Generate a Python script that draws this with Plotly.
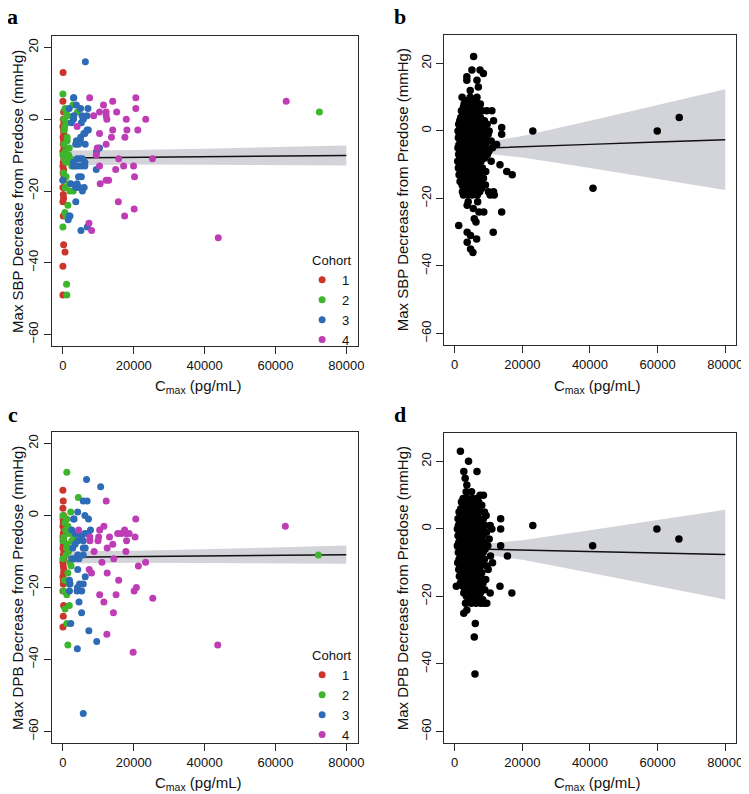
import plotly.graph_objects as go

# ---------------- data ----------------
# panel a: max SBP decrease vs Cmax, by cohort
a1_x = [50, 0, 200, 100, 300, 0, 150, 250, 50, 200,
        100, 300, 0, 150, 250, 100, 0, 200, 50, 300,
        150, 0, 100, 200, 0, 100, 200, 600, 0, 0,
        350, 400, 450]
a1_y = [13, 5, 2, 0, -1, -2, -3, -4, -5, -6,
        -7, -8, -9, -10, -11, -12, -13, -14, -15, -16,
        -17, -19, -21, -22, -23, -27, -35, -37, -41, -49,
        -3, -9, -12]
a2_x = [0, 2800, 4100, 600, 900, 1400, 300, 1000, 500, 1200,
        300, 1800, 600, 1000, 0, 1500, 2000, 2500, 400, 800,
        200, 900, 0, 1800, 700, 1950, 2900, 1400, 560, 900,
        0, 1020, 1100, 72400, 1600, 300, 1200, 2200]
a2_y = [7, 4, 2, 3, 2, 1, 0, -1, -2, -6,
        -7, -8, -9, -10, -10, -11, -12, -13, -11, -12,
        -15, -16, -17, -18, -19, -20, -20, -24, -26, -27,
        -30, -46, -49, 2, -10, -3, -5, -11]
a3_x = [6330, 3070, 3800, 7070, 1770, 5000, 3070, 5400, 6800, 2400,
        5200, 6800, 5900, 5000, 3800, 4400, 6300, 3600, 10330, 4000,
        4800, 5500, 3000, 3600, 4400, 5300, 6200, 9400, 0, 4400,
        4000, 2230, 4700, 3600, 5500, 6000, 3630, 1770, 1500, 5100,
        6880, 2980, 3000, 5770, 7170, 6200, 9500, 3000, 6200, 5200,
        4900, 2000]
a3_y = [16, 6, 4, 3, 3, 3, 1, 1, 1, -1,
        -1, -3, -4, -5, -6, -7, -7, -7, -8, -11,
        -11, -11, -13, -13, -13, -13, -13, -14, -17, -16,
        -18, -18, -19, -19, -20, -19, -23, -27, -28, -31,
        -30, 6, 0, 0, -3, -4, -9, -12, -12, -16,
        -6, -27]
a4_x = [7540, 20580, 14050, 20580, 11450, 15170, 10330, 12200, 8660, 12200,
        12400, 17880, 23370, 4000, 14050, 18060, 21140, 10330, 13700, 17500,
        12200, 9700, 9420, 15730, 25300, 10330, 17130, 19930, 14890, 20210,
        12200, 12900, 10520, 15640, 17410, 20110, 7350, 8100, 43850, 63030]
a4_y = [6, 6, 5, 3, 4, 2, 2, 2, 1, 1,
        0, 0, 0, -2, -3, -3, -3, -4, -5, -5,
        -7, -8, -10, -11, -11, -13, -13, -13, -14, -16,
        -17, -17, -18, -23, -27, -25, -29, -31, -33, 5]

# panel c: max DBP decrease vs Cmax, by cohort
c1_x = [0, 100, 0, 200, 100, 0, 300, 100, 0, 200,
        100, 0, 300, 100, 200, 0, 100, 200, 0, 100,
        0, 200, 100, 0, 250, 150, 50]
c1_y = [7, 4, 2, 0, -2, -3, -4, -5, -6, -7,
        -8, -9, -10, -11, -12, -13, -14, -16, -17, -19,
        -21, -25, -28, -31, -15, -18, -1]
c2_x = [1100, 4350, 2200, 0, 1100, 600, 1400, 800, 1800, 300,
        3150, 2500, 0, 1200, 1600, 900, 0, 2000, 1400, 1800,
        200, 1100, 600, 1800, 1100, 1400, 72100, 2300, 500, 1000]
c2_y = [12, 5, 1, 0, -1, -2, -3, -4, -5, -6,
        -6, -7, -7, -8, -10, -11, -12, -13, -16, -19,
        -21, -22, -26, -25, -30, -36, -11, -14, -18, -9]
c3_x = [6670, 10650, 5740, 6850, 4170, 6200, 7220, 3150, 2500, 7780,
        3430, 4300, 6200, 7100, 5200, 5740, 3430, 2780, 5740, 4170,
        5740, 2500, 4170, 6300, 1850, 4700, 5740, 4000, 5300, 1850,
        4540, 5280, 2220, 7320, 9540, 4070, 5740, 3000, 6300, 3200,
        4500, 4100, 2000, 4250]
c3_y = [10, 8, 4, 4, 1, 0, -1, -1, -4, -4,
        -5, -5, -5, -5, -6, -7, -8, -9, -9, -11,
        -11, -12, -15, -17, -18, -19, -19, -21, -21, -21,
        -24, -27, -30, -32, -35, -37, -55, -1, -9, -12,
        -12, -20, -19, -7]
c4_x = [12220, 20560, 4440, 10370, 11570, 10090, 13150, 15460, 16400, 17780,
        17410, 18700, 20370, 17960, 9900, 7600, 7600, 14080, 12500, 17780,
        8800, 14350, 11020, 23340, 21300, 7410, 8060, 12500, 15740, 10370,
        15000, 20740, 20100, 25370, 11570, 14260, 12410, 19820, 43700, 62780]
c4_y = [4, -1, -4, -4, -3, -6, -6, -5, -5, -5,
        -4, -5, -6, -7, -7, -6, -7, -8, -9, -10,
        -10, -12, -13, -13, -14, -15, -16, -16, -18, -22,
        -22, -20, -21, -23, -24, -27, -33, -38, -36, -3]

# panel b: all subjects, SBP (points grouped by y level)
b_levels = [22, 18, 17, 16, 15, 13, 12, 10, 9, 8, 7, 6, 5, 4, 3, 2, 1, 0,
            -1, -2, -3, -4, -5, -6, -7, -8, -9, -10, -11, -12, -13, -14, -15,
            -16, -17, -18, -19, -21, -22, -23, -24, -26, -27, -28, -30, -31,
            -32, -33, -35, -36]
b_rows = [
    [5600], [5100, 7500], [8500], [3600], [3600, 6600], [7000], [4600],
    [2200, 4600, 6600],
    [3200, 4500, 5200, 6100],
    [2800, 3900, 5000, 5800, 7100, 7600],
    [2600, 3500, 4300, 5500, 6400],
    [2000, 3000, 4100, 4800, 6000, 7300, 8200, 9500, 11000],
    [2400, 3300, 4600, 5300, 6800],
    [1800, 2900, 3700, 4400, 5600, 6200, 7600, 66400],
    [1500, 2500, 3400, 4900, 5800, 7000, 8800, 11500],
    [1200, 2200, 3100, 4100, 5200, 6500, 7900, 9600],
    [1600, 2700, 3800, 4700, 5900, 7200, 8400, 13900],
    [1000, 2000, 3000, 4300, 5500, 6400, 7600, 9000, 10200, 23100, 59900],
    [1400, 2500, 3500, 4600, 5800, 7000, 8200, 9900, 13900],
    [1100, 2100, 3200, 4200, 5200, 6300, 7500, 8800],
    [1700, 2800, 3900, 5000, 6100, 7300, 9400, 10800],
    [1300, 2300, 3300, 4500, 5600, 6700, 8000, 9200, 12400],
    [1000, 2000, 3000, 4100, 5300, 6400, 7700, 8600, 11200],
    [1500, 2600, 3700, 4800, 5900, 7100, 8300, 10100],
    [1200, 2200, 3300, 4400, 5500, 6700, 7900, 9700],
    [1600, 2700, 3800, 5000, 6200, 7400, 8900],
    [900, 1900, 3000, 4200, 5400, 6600, 7800, 10800],
    [1400, 2400, 3500, 4700, 5900, 7100, 13400],
    [1100, 2200, 3300, 4500, 5700, 6900, 8200],
    [1700, 2800, 3900, 5100, 6300, 7600, 9200, 15400],
    [1300, 2500, 3600, 4800, 6000, 7300, 17000],
    [2000, 3100, 4200, 5400, 6600, 8500],
    [1600, 2700, 3900, 5100, 6400, 7700],
    [2200, 3400, 4600, 5800, 7100, 9100],
    [2600, 3800, 5000, 6200, 8000, 40900],
    [2300, 3300, 4400, 5600, 7400, 10000, 11500],
    [2600, 3900, 5200, 6700, 10500, 11700],
    [4000, 6800], [3700], [5500], [7200, 8600, 13900], [5800], [6300],
    [1200], [3700, 11400], [4700], [6500], [3700], [4700], [5400],
]

# panel d: all subjects, DBP (points grouped by y level)
d_levels = [23, 20, 17, 15, 13, 11, 10, 9, 8, 7, 6, 5, 4, 3, 2, 1, 0,
            -1, -2, -3, -4, -5, -6, -7, -8, -9, -10, -11, -12, -13, -14,
            -15, -16, -17, -18, -19, -20, -21, -22, -24, -25, -28, -32, -43]
d_rows = [
    [1700], [4100], [2700, 6600], [3100], [3600], [3400, 5000], [7500, 8500],
    [2500, 3800, 5200, 6500],
    [2000, 3200, 4400, 5800, 7100],
    [2800, 4000, 5000, 6300, 8000],
    [1800, 3000, 4300, 5500, 6800],
    [1300, 2400, 3600, 4800, 6000, 7400, 8800],
    [1700, 2900, 4100, 5300, 6600, 9300],
    [1000, 2200, 3400, 4600, 5800, 7100, 8500, 13600],
    [1500, 2700, 3900, 5100, 6300, 7700],
    [1100, 2300, 3500, 4700, 5900, 7300, 9000, 10500, 23100],
    [800, 1900, 3100, 4300, 5500, 6800, 8100, 11000, 13600, 59800],
    [1400, 2600, 3800, 5000, 6200, 7500, 9400],
    [1000, 2100, 3300, 4500, 5700, 6900, 8300],
    [1600, 2800, 4000, 5200, 6400, 7800, 10200, 66300],
    [1200, 2400, 3600, 4800, 6000, 7200, 8700],
    [800, 1900, 3100, 4300, 5500, 6700, 8000, 9800, 13600, 40800],
    [1500, 2700, 3900, 5100, 6300, 7500, 9000],
    [1100, 2300, 3500, 4700, 5900, 7100, 8400],
    [1700, 2900, 4100, 5300, 6500, 7800, 10600, 15600],
    [1300, 2500, 3700, 4900, 6100, 7400, 8800],
    [900, 2000, 3200, 4400, 5600, 6900, 8200, 11200],
    [1600, 2800, 4000, 5200, 6400, 7700, 9600],
    [1200, 2400, 3600, 4800, 6000, 7300, 9900],
    [1800, 3000, 4200, 5400, 6700, 8000],
    [1400, 2600, 3800, 5000, 6300, 7600],
    [2100, 3300, 4500, 5700, 7000, 9200],
    [1700, 2900, 4100, 5400, 6600, 8400],
    [500, 2400, 3600, 4800, 6100, 7400, 13400],
    [3100, 4300, 5500, 6800, 8900],
    [2700, 3900, 5100, 6400, 7600, 10500, 16900],
    [3500, 4700, 6000, 7200],
    [4200, 5500, 8300],
    [3200, 4900, 6300, 7700, 8700, 9500],
    [3600], [2700], [6100], [5800], [6000],
]

# regression fits and confidence bands
band_x = [0, 10000, 20000, 40000, 60000, 80000]
a_fit = [-10.8, -10.7, -10.6, -10.45, -10.3, -10.1]
a_hi = [-8.7, -8.7, -8.6, -8.2, -7.8, -7.3]
a_lo = [-12.9, -12.7, -12.6, -12.7, -12.8, -12.9]
c_fit = [-11.6, -11.5, -11.4, -11.3, -11.1, -10.9]
c_hi = [-9.9, -9.9, -9.8, -9.4, -8.9, -8.3]
c_lo = [-13.3, -13.2, -13.1, -13.2, -13.3, -13.4]

band2_x = [0, 5000, 10000, 20000, 40000, 60000, 80000]
b_fit = [-5.4, -5.2, -5.0, -4.7, -4.0, -3.3, -2.6]
b_hi = [-3.5, -3.6, -3.2, -1.5, 3.0, 7.6, 12.3]
b_lo = [-7.3, -6.8, -6.8, -7.9, -11.0, -14.2, -17.5]
d_fit = [-5.8, -5.9, -6.0, -6.25, -6.7, -7.15, -7.6]
d_hi = [-3.9, -4.3, -4.3, -3.35, -0.4, 2.65, 5.7]
d_lo = [-7.7, -7.5, -7.7, -9.15, -13.0, -16.95, -20.9]

cohorts = ["1", "2", "3", "4"]
x_ticks = [0, 20000, 40000, 60000, 80000]
y_ticks = [-60, -40, -20, 0, 20]

# ---------------- figure ----------------
# the page body keeps its default 8px margin, so the figure sits 8px in
OFF = 8
W, H = 749 - OFF, 794 - OFF
FONT = "Liberation Sans, Arial, Helvetica, sans-serif"
SERIF = "Liberation Serif, Times New Roman, serif"
COLORS = ["#CB352C", "#3DB52D", "#2E6BB6", "#BE3DB5"]
BAND = "#D3D3DA"
INK = "#2a2a2a"

b_x = [v for row in b_rows for v in row]
b_y = [lv for lv, row in zip(b_levels, b_rows) for _ in row]
d_x = [v for row in d_rows for v in row]
d_y = [lv for lv, row in zip(d_levels, d_rows) for _ in row]


def rx(p):
    return (p - OFF) / W


def ry(p):
    return 1 - (p - OFF) / H


fig = go.Figure()


def add_band(xs, lo, hi, fit, xa, ya):
    fig.add_trace(go.Scatter(x=xs, y=lo, mode="lines", line=dict(width=0),
                             xaxis=xa, yaxis=ya, showlegend=False, hoverinfo="skip"))
    fig.add_trace(go.Scatter(x=xs, y=hi, mode="lines", line=dict(width=0),
                             fill="tonexty", fillcolor=BAND,
                             xaxis=xa, yaxis=ya, showlegend=False, hoverinfo="skip"))
    fig.add_trace(go.Scatter(x=xs, y=fit, mode="lines", line=dict(color="#111", width=1.4),
                             xaxis=xa, yaxis=ya, showlegend=False))


add_band(band_x, a_lo, a_hi, a_fit, "x", "y")
for name, xs, ys, col in zip(cohorts, [a1_x, a2_x, a3_x, a4_x], [a1_y, a2_y, a3_y, a4_y], COLORS):
    fig.add_trace(go.Scatter(x=xs, y=ys, mode="markers", name=name,
                             marker=dict(color=col, size=7),
                             xaxis="x", yaxis="y", legend="legend"))

add_band(band2_x, b_lo, b_hi, b_fit, "x2", "y2")
fig.add_trace(go.Scatter(x=b_x, y=b_y, mode="markers", marker=dict(color="black", size=7.5),
                         xaxis="x2", yaxis="y2", showlegend=False))

add_band(band_x, c_lo, c_hi, c_fit, "x3", "y3")
for name, xs, ys, col in zip(cohorts, [c1_x, c2_x, c3_x, c4_x], [c1_y, c2_y, c3_y, c4_y], COLORS):
    fig.add_trace(go.Scatter(x=xs, y=ys, mode="markers", name=name,
                             marker=dict(color=col, size=7),
                             xaxis="x3", yaxis="y3", legend="legend2"))

add_band(band2_x, d_lo, d_hi, d_fit, "x4", "y4")
fig.add_trace(go.Scatter(x=d_x, y=d_y, mode="markers", marker=dict(color="black", size=7.5),
                         xaxis="x4", yaxis="y4", showlegend=False))

axis_style = dict(showline=True, mirror=True, linecolor=INK, linewidth=1,
                  ticks="outside", ticklen=7, tickwidth=1, tickcolor=INK,
                  showgrid=False, zeroline=False, tickformat="d",
                  tickfont=dict(family=FONT, size=13, color="#111"))

x_range = [-3200, 83200]
y_range_ac = [-63.2, 23.2]
y_range_bd = [-63.4, 28.4]

fig.update_layout(
    xaxis=dict(domain=[rx(52), rx(361)], anchor="y", range=x_range, tickvals=x_ticks, **axis_style),
    yaxis=dict(domain=[ry(346), ry(36)], anchor="x", range=y_range_ac, tickvals=y_ticks,
               tickangle=-90, **axis_style),
    xaxis2=dict(domain=[rx(448), rx(743)], anchor="y2", range=x_range, tickvals=x_ticks, **axis_style),
    yaxis2=dict(domain=[ry(345), ry(35)], anchor="x2", range=y_range_bd, tickvals=y_ticks,
                tickangle=-90, **axis_style),
    xaxis3=dict(domain=[rx(52), rx(361)], anchor="y3", range=x_range, tickvals=x_ticks, **axis_style),
    yaxis3=dict(domain=[ry(743), ry(432)], anchor="x3", range=y_range_ac, tickvals=y_ticks,
                tickangle=-90, **axis_style),
    xaxis4=dict(domain=[rx(448), rx(743)], anchor="y4", range=x_range, tickvals=x_ticks, **axis_style),
    yaxis4=dict(domain=[ry(743), ry(433)], anchor="x4", range=y_range_bd, tickvals=y_ticks,
                tickangle=-90, **axis_style),
)

legend_style = dict(xanchor="left", yanchor="top", bgcolor="rgba(0,0,0,0)",
                    traceorder="normal",
                    font=dict(family=FONT, size=13, color="#111"),
                    title=dict(text="Cohort", font=dict(family=FONT, size=13, color="#111")),
                    tracegroupgap=0, indentation=-8)
fig.update_layout(
    legend=dict(x=rx(313), y=ry(248), **legend_style),
    legend2=dict(x=rx(313), y=ry(643), **legend_style),
)

annotations = []
for letter, px, py in [("a", 13, 17), ("b", 404, 17), ("c", 13, 414), ("d", 404, 414)]:
    annotations.append(dict(text="<b>%s</b>" % letter, x=rx(px), y=ry(py),
                            xref="paper", yref="paper", showarrow=False,
                            xanchor="center", yanchor="middle",
                            font=dict(family=SERIF, size=22, color="black")))

y_titles = [("Max SBP Decrease from Predose (mmHg)", 17, 191),
            ("Max SBP Decrease from Predose (mmHg)", 406, 190),
            ("Max DPB Decrease from Predose (mmHg)", 17, 588),
            ("Max DPB Decrease from Predose (mmHg)", 406, 588)]
for text, px, py in y_titles:
    annotations.append(dict(text=text, x=rx(px), y=ry(py), textangle=-90,
                            xref="paper", yref="paper", showarrow=False,
                            xanchor="center", yanchor="middle",
                            font=dict(family=FONT, size=15, color="#111")))

for px, py in [(200, 386), (603, 386), (200, 783), (603, 783)]:
    annotations.append(dict(text="C<sub>max</sub> (pg/mL)", x=rx(px), y=ry(py),
                            xref="paper", yref="paper", showarrow=False,
                            xanchor="center", yanchor="middle",
                            font=dict(family=FONT, size=15, color="#111")))

fig.update_layout(
    annotations=annotations,
    width=W, height=H,
    margin=dict(l=0, r=0, t=0, b=0),
    paper_bgcolor="white", plot_bgcolor="white",
    font=dict(family=FONT, color="#111"),
)

fig.write_html("out.html")
